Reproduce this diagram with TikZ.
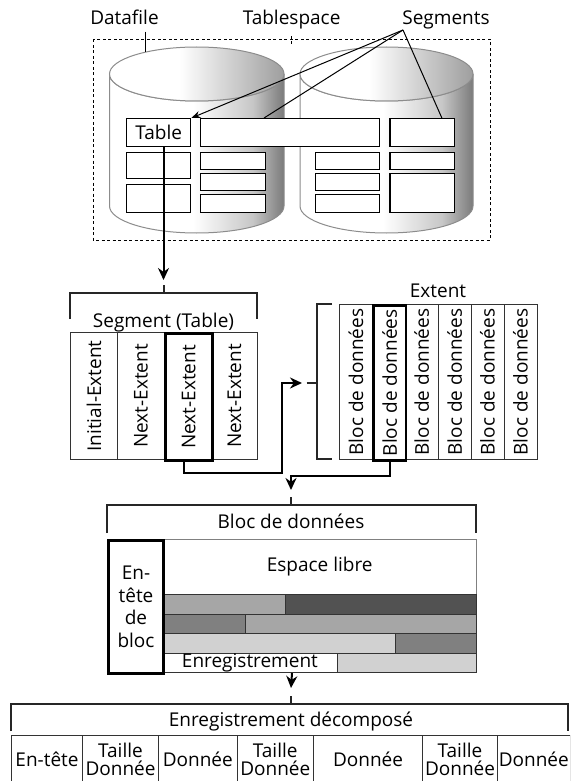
\documentclass[tikz,border=0pt]{standalone}
\usepackage{fontspec}
\setmainfont{Open Sans}
\usepackage{graphicx}
\usetikzlibrary{positioning}
\usetikzlibrary{calc}
\usetikzlibrary{arrows.meta}

\pgfdeclarehorizontalshading{cylbody}{100bp}{color(0bp)=(white); color(49bp)=(white); color(66bp)=(black!22); color(75bp)=(black!52); color(100bp)=(black!52)}
\pgfdeclarehorizontalshading{cyltop}{100bp}{color(0bp)=(white); color(45bp)=(white); color(75bp)=(black!38); color(100bp)=(black!38)}

\newcommand{\vtext}[1]{\rotatebox{90}{#1}}

\tikzset{
    seg/.style={draw, line width=1.4pt, fill=white, inner sep=0pt, anchor=north west},
    col/.style={draw=black!80, line width=1pt, fill=white, inner sep=0pt, anchor=north west},
    hot/.style={draw=black, line width=2.6pt},
    cell/.style={draw=black!80, line width=1pt, inner sep=0pt, anchor=north west},
    brk/.style={line width=2pt, black!85},
    conn/.style={line width=2pt, -{Stealth[length=12pt,width=11pt]}},
    lead/.style={line width=1pt},
    cyl/.style={draw=black!45, line width=1pt}
}

\begin{document}
\begin{tikzpicture}[x=1pt,y=-1pt]
\fontsize{19}{22}\selectfont
\useasboundingbox (0,0) rectangle (570,781);
\clip (0,0) rectangle (570,781);

% tablespace and datafiles
\draw[line width=1pt, dash pattern=on 3pt off 2.5pt] (93,39.5) rectangle (490,240);

\shade[cyl, shading=cylbody] (109.5,74) -- (109.5,206) arc[start angle=180, end angle=360, x radius=87.25pt, y radius=27pt] -- (284,74) arc[start angle=0, end angle=-180, x radius=87.25pt, y radius=27pt] -- cycle;
\shade[cyl, shading=cyltop] (196.75,74) ellipse [x radius=87.25pt, y radius=27pt];
\shade[cyl, shading=cylbody] (300,74) -- (300,206) arc[start angle=180, end angle=360, x radius=86.5pt, y radius=27pt] -- (473,74) arc[start angle=0, end angle=-180, x radius=86.5pt, y radius=27pt] -- cycle;
\shade[cyl, shading=cyltop] (386.5,74) ellipse [x radius=86.5pt, y radius=27pt];

\node[anchor=base] (datafile) at (124.5,25) {Datafile};
\node[anchor=base] (tablespace) at (291.6,25) {Tablespace};
\node[anchor=base] (segments) at (446,25) {Segments};

% segments
\node[seg, minimum width=64pt, minimum height=28pt] (tbl) at (126,118) {Table};
\node[seg, minimum width=178.5pt, minimum height=28pt] (wide) at (200,118) {};
\node[seg, minimum width=64.2pt, minimum height=28pt] (rtop) at (389.4,118) {};
\node[seg, minimum width=64pt, minimum height=26pt] (l2) at (126,152) {};
\node[seg, minimum width=64pt, minimum height=28pt] (l3) at (126,184) {};
\node[seg, minimum width=65pt, minimum height=17pt] (m1) at (200,152) {};
\node[seg, minimum width=65pt, minimum height=17pt] (m2) at (200,173) {};
\node[seg, minimum width=65pt, minimum height=18pt] (m3) at (200,194) {};
\node[seg, minimum width=63.9pt, minimum height=17pt] (n1) at (314.6,152) {};
\node[seg, minimum width=63.9pt, minimum height=17pt] (n2) at (314.6,173) {};
\node[seg, minimum width=63.9pt, minimum height=18pt] (n3) at (314.6,194) {};
\node[seg, minimum width=64.2pt, minimum height=17pt] (r2) at (389.4,152) {};
\node[seg, minimum width=64.2pt, minimum height=39pt] (r3) at (389.4,173) {};

\coordinate (apex) at (403,30);
\coordinate (dfedge) at (145,52);
\draw[lead, -{Stealth[length=9pt,width=7pt]}] (apex) -- (tbl.north east);
\draw[lead] (apex) -- ($(wide.north west)!0.356!(wide.north east)$);
\draw[lead] (apex) -- ($(rtop.north west)!0.8!(rtop.north east)$);
\draw[lead] (dfedge |- datafile.south) -- (dfedge);
\draw[lead, dash pattern=on 3pt off 2pt] (tablespace.south) -- ++(0,9);

% segment (table)
\coordinate (segin) at (163.5,280);
\draw[conn] (tbl.south -| segin) -- (segin);
\draw[brk] (70,319) -- (70,293) -- (257,293) -- (257,319);
\draw[brk] (163.5,285) -- (163.5,293);
\node[anchor=base] (seglbl) at (163.5,327) {Segment (Table)};

\node[col, minimum width=47pt, minimum height=127pt] (ie) at (70,332) {\vtext{Initial-Extent}};
\node[col, minimum width=47pt, minimum height=127pt] (ne1) at (117,332) {\vtext{Next-Extent}};
\node[col, minimum width=46pt, minimum height=127pt] (ne3) at (211,332) {\vtext{Next-Extent}};
\node[col, hot, minimum width=47pt, minimum height=127pt] (ne2) at (164,332) {\vtext{Next-Extent}};

% extent
\coordinate (extin) at (302,383);
\draw[conn] ([xshift=-5pt]ne2.south) -- ++(0,11) -- ++(98.5,0) |- (extin);
\draw[brk] (332,304) -- (317,304) -- (317,459) -- (332,459);
\draw[brk] (306.6,383) -- (317,383);
\node[anchor=base] (extlbl) at (438,297) {Extent};

\node[col, minimum width=32.9pt, minimum height=155pt] (bd1) at (339,304) {\vtext{Bloc de données}};
\node[col, minimum width=32.9pt, minimum height=155pt] (bd3) at (404.8,304) {\vtext{Bloc de données}};
\node[col, minimum width=32.9pt, minimum height=155pt] (bd4) at (437.7,304) {\vtext{Bloc de données}};
\node[col, minimum width=32.9pt, minimum height=155pt] (bd5) at (470.6,304) {\vtext{Bloc de données}};
\node[col, minimum width=32.9pt, minimum height=155pt] (bd6) at (503.6,304) {\vtext{Bloc de données}};
\node[col, hot, minimum width=32.9pt, minimum height=155pt] (bd2) at (371.9,304) {\vtext{Bloc de données}};

% bloc de donnees
\coordinate (blocin) at (291,490);
\draw[conn] (bd2.south) -- ++(0,14) -| (blocin);
\draw[brk] (107,533) -- (107,505) -- (476,505) -- (476,533);
\draw[brk] (291,497) -- (291,505);
\node[anchor=base] (bloclbl) at (291,528) {Bloc de données};

\node[cell, minimum width=369pt, minimum height=133pt] (bloc) at (107,539) {};
\node[cell, draw=black!50, minimum width=313.6pt, minimum height=55pt] (esp) at (162.4,539) {Espace libre};
\node[cell, fill=black!35, minimum width=123pt, minimum height=19.5pt] (r1a) at (162.4,594) {};
\node[cell, fill=black!68, minimum width=190.6pt, minimum height=19.5pt] (r1b) at (285.4,594) {};
\node[cell, fill=black!50, minimum width=82.1pt, minimum height=19.5pt] (r2a) at (162.4,613.5) {};
\node[cell, fill=black!35, minimum width=231.5pt, minimum height=19.5pt] (r2b) at (244.5,613.5) {};
\node[cell, fill=black!18, minimum width=232.6pt, minimum height=19.5pt] (r3a) at (162.4,633) {};
\node[cell, fill=black!50, minimum width=81pt, minimum height=19.5pt] (r3b) at (395,633) {};
\node[cell, fill=white, minimum width=174.1pt, minimum height=19.5pt, text height=12pt, text depth=2pt] (r4a) at (162.4,652.5) {Enregistrement};
\node[cell, fill=black!18, minimum width=139.5pt, minimum height=19.5pt] (r4b) at (336.5,652.5) {};
\node[cell, draw=black, line width=2.6pt, minimum width=55.4pt, minimum height=133pt, align=center, font=\fontsize{19}{22.5}\selectfont] (hdr) at (107,539) {En-\\tête\\de\\bloc};

% enregistrement decompose
\coordinate (recin) at (291,688);
\draw[conn] (bloc.south) -- (recin);
\draw[brk] (11,731) -- (11,704) -- (568,704) -- (568,731);
\draw[brk] (291,696) -- (291,704);
\node[anchor=base] (reclbl) at (291,726) {Enregistrement décomposé};

\tikzset{every node/.append style={font=\fontsize{19}{18}\selectfont, align=center}}
\node[cell, minimum width=71pt, minimum height=47pt] (c1) at (11,735) {En-tête};
\node[cell, minimum width=76pt, minimum height=47pt] (c2) at (82,735) {Taille\\Donnée};
\node[cell, minimum width=78.5pt, minimum height=47pt] (c3) at (158,735) {Donnée};
\node[cell, minimum width=76.5pt, minimum height=47pt] (c4) at (236.5,735) {Taille\\Donnée};
\node[cell, minimum width=109pt, minimum height=47pt] (c5) at (313,735) {Donnée};
\node[cell, minimum width=75pt, minimum height=47pt] (c6) at (422,735) {Taille\\Donnée};
\node[cell, minimum width=72.5pt, minimum height=47pt] (c7) at (497,735) {Donnée};

\end{tikzpicture}
\end{document}
